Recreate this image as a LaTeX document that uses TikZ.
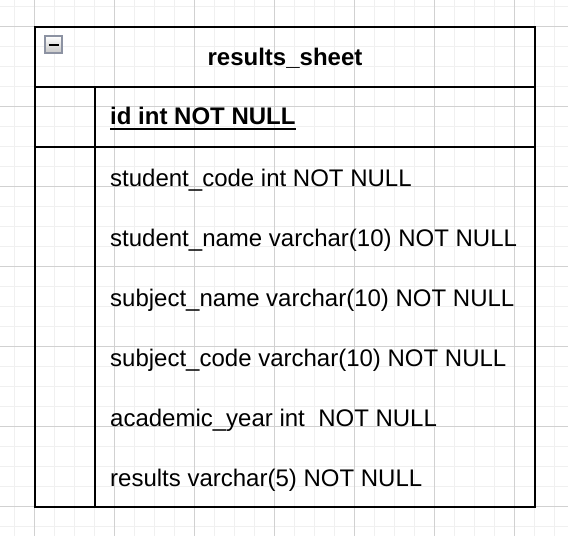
\documentclass[tikz,border=0pt]{standalone}
\usepackage{fontspec}
\setmainfont{Liberation Sans}
\usetikzlibrary{calc}
\begin{document}
\begin{tikzpicture}[x=1pt,y=-1pt,
  minorgrid/.style={draw=black!6,line width=1pt},
  majorgrid/.style={draw=black!18,line width=1pt},
  tableline/.style={draw=black,line width=2pt},
  field/.style={anchor=base west,inner sep=0pt,font=\fontsize{24}{28}\selectfont},
  titletext/.style={anchor=base,inner sep=0pt,font=\fontsize{24}{28}\selectfont\bfseries}]
\useasboundingbox (0,0) rectangle (568,536);
\fill[white] (0,0) rectangle (568,536);
% grid
\foreach \i in {0,...,28} {\draw[minorgrid] (14.3+20*\i,0) -- (14.3+20*\i,536);}
\foreach \i in {0,...,26} {\draw[minorgrid] (0,6+20*\i) -- (568,6+20*\i);}
\foreach \i in {0,...,6} {\draw[majorgrid] (34.3+80*\i,0) -- (34.3+80*\i,536);}
\foreach \i in {0,...,6} {\draw[majorgrid] (0,26+80*\i) -- (568,26+80*\i);}
% table
\coordinate (tl) at (35,27);
\coordinate (br) at (535,507);
\coordinate (h1l) at (35,87);
\coordinate (h1r) at (535,87);
\coordinate (h2l) at (35,147);
\coordinate (h2r) at (535,147);
\coordinate (vt) at (95,87);
\coordinate (vb) at (95,507);
\draw[tableline] (tl) rectangle (br);
\draw[tableline] (h1l) -- (h1r);
\draw[tableline] (h2l) -- (h2r);
\draw[tableline] (vt) -- (vb);
% collapse icon
\shade[top color=white,bottom color=black!22] (45,36) rectangle (62,53);
\draw[draw={rgb,255:red,140;green,146;blue,162},line width=1.5pt] (45,36) rectangle (62,53);
\draw[black,line width=2pt] (48.5,44.5) -- (58.5,44.5);
% texts
\node[titletext] (title) at (285,65.5) {results\_sheet};
\node[field] (id) at (110,124.5) {\bfseries id int NOT NULL};
\draw[line width=2pt] ($(id.base west)+(0,4.5)$) -- ($(id.base east)+(0,4.5)$);
\node[field] (f1) at (110,186) {student\_code int NOT NULL};
\node[field] (f2) at (110,246) {student\_name varchar(10) NOT NULL};
\node[field] (f3) at (110,306) {subject\_name varchar(10) NOT NULL};
\node[field] (f4) at (110,366) {subject\_code varchar(10) NOT NULL};
\node[field] (f5) at (110,426) {academic\_year int\ \ NOT NULL};
\node[field] (f6) at (110,486) {results varchar(5) NOT NULL};
\end{tikzpicture}
\end{document}
